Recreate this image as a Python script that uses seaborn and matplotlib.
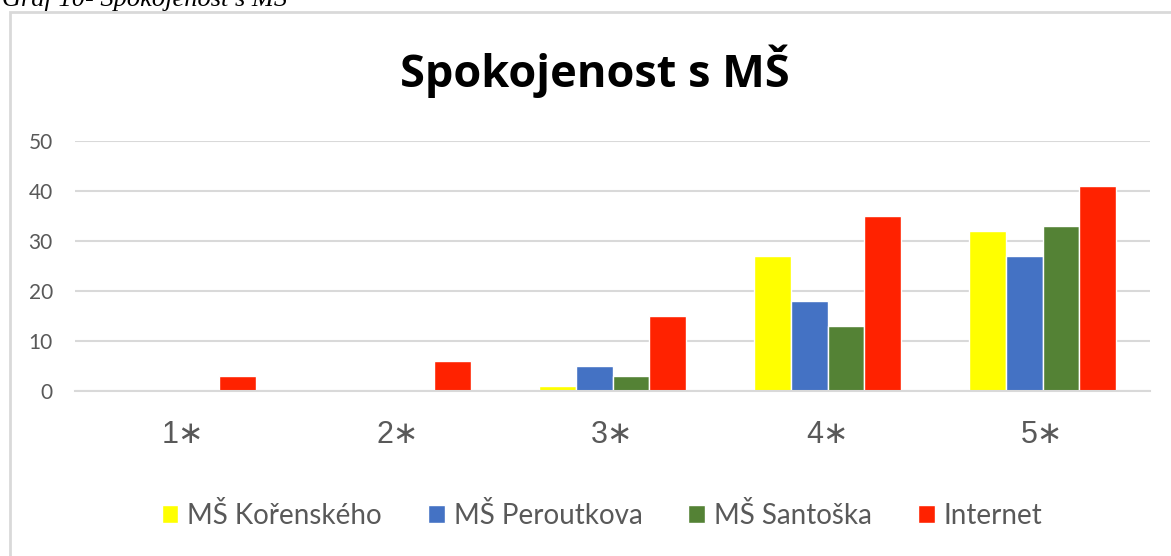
import pandas as pd
import numpy as np
import matplotlib.pyplot as plt
import seaborn as sns
from matplotlib.patches import Rectangle
from matplotlib.ticker import FixedLocator

categories = ["1∗", "2∗", "3∗", "4∗", "5∗"]
series = ["MŠ Kořenského", "MŠ Peroutkova", "MŠ Santoška", "Internet"]
korenskeho = [0, 0, 1, 27, 32]
peroutkova = [0, 0, 5, 18, 27]
santoska = [0, 0, 3, 13, 33]
internet = [3, 6, 15, 35, 41]
colors = ["#FFFF00", "#4472C4", "#548235", "#FF2200"]

rows = []
for name, vals in zip(series, [korenskeho, peroutkova, santoska, internet]):
    for cat, v in zip(categories, vals):
        rows.append({"Hodnocení": cat, "Škola": name, "Počet": v})
df = pd.DataFrame(rows)

sns.set_style("white")
plt.rcParams['font.family'] = ['Lato', 'DejaVu Sans']

fig = plt.figure(figsize=(11.71, 5.56), dpi=100)
W, H = 1171, 556

# caption above the chart (cut off by the page, like in the source document)
fig.text(2 / W, 1 - 6 / H, "Graf 10- Spokojenost s MŠ", family=['Liberation Serif'],
         style='italic', fontsize=19, va='baseline', ha='left', color='black')

# chart frame
fig.patches.append(Rectangle((10 / W, -0.1), 1.2, 1 - 12 / H + 0.1, transform=fig.transFigure,
                             fill=False, edgecolor='#D9D9D9', linewidth=2))

ax = fig.add_axes([75 / W, (H - 391) / H, (1150 - 75) / W, (391 - 141) / H])
sns.barplot(data=df, x="Hodnocení", y="Počet", hue="Škola", palette=colors,
            width=0.684, saturation=1, ax=ax, legend=True)

ax.set_ylim(0, 50)
ax.set_xlim(-0.5, 4.5)
ax.set_yticks(range(0, 51, 10))
ax.yaxis.grid(True, color='#D9D9D9', linewidth=1.5)
ax.set_axisbelow(True)
for s in ["top", "right", "left"]:
    ax.spines[s].set_visible(False)
ax.spines["bottom"].set_color('#D9D9D9')
ax.spines["bottom"].set_linewidth(1.5)
ax.set_xlabel("")
ax.set_ylabel("")

ax.tick_params(axis='y', length=0, pad=16, labelsize=15, labelcolor='#595959')
ax.tick_params(axis='x', which='major', length=0, pad=21, labelsize=22, labelcolor='#595959')
for lab in ax.get_xticklabels():
    lab.set_family(['Liberation Sans', 'DejaVu Sans'])
ax.xaxis.set_minor_locator(FixedLocator(np.arange(-0.5, 5, 1)))
ax.tick_params(axis='x', which='minor', length=7, width=1.5, color='#D9D9D9', direction='out')

fig.text(595 / W, 1 - 87 / H, "Spokojenost s MŠ", fontsize=32.5, fontweight='bold',
         family=['Open Sans', 'DejaVu Sans'], ha='center', va='baseline', color='black')

handles, labels = ax.get_legend_handles_labels()
ax.legend_.remove()
fig.legend(handles, labels, loc='center', bbox_to_anchor=(602 / W, 1 - 515 / H), ncol=4,
           frameon=False, fontsize=20, handlelength=0.6, handleheight=0.6,
           handletextpad=0.33, columnspacing=1.65, labelcolor='#595959')

fig.savefig("out.png", dpi=100)
